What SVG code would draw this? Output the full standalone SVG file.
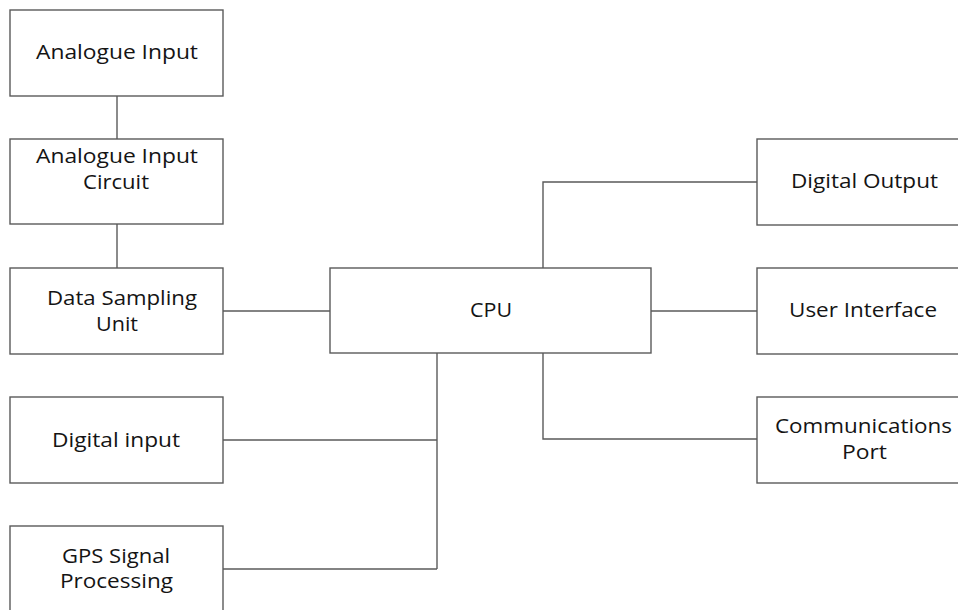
<svg xmlns="http://www.w3.org/2000/svg" width="958" height="610" viewBox="0 0 958 610">
<style>
.box{fill:#fff;stroke:#5a5a5a;stroke-width:1.4}
.ln{fill:none;stroke:#5a5a5a;stroke-width:1.4}
text{font-family:"Open Sans","Liberation Sans",sans-serif;font-size:20px;fill:#141414;text-anchor:middle}
</style>
<rect width="958" height="610" fill="#fff"/>
<g id="connectors">
<line class="ln" x1="117" y1="96" x2="117" y2="139"/>
<line class="ln" x1="117" y1="224" x2="117" y2="268"/>
<line class="ln" x1="223" y1="311" x2="330" y2="311"/>
<line class="ln" x1="651" y1="311" x2="757" y2="311"/>
<polyline class="ln" points="543,268 543,182 757,182"/>
<polyline class="ln" points="543,353 543,439 757,439"/>
<line class="ln" x1="437" y1="353" x2="437" y2="569"/>
<line class="ln" x1="223" y1="440" x2="437" y2="440"/>
<line class="ln" x1="223" y1="569" x2="437" y2="569"/>
</g>
<g id="analogue-input"><rect class="box" x="10" y="10" width="213" height="86"/><text x="117" y="59" textLength="162" lengthAdjust="spacingAndGlyphs">Analogue Input</text></g>
<g id="analogue-input-circuit"><rect class="box" x="10" y="139" width="213" height="85"/><text x="117" y="163" textLength="162" lengthAdjust="spacingAndGlyphs">Analogue Input</text><text x="116" y="189" textLength="66" lengthAdjust="spacingAndGlyphs">Circuit</text></g>
<g id="data-sampling-unit"><rect class="box" x="10" y="268" width="213" height="86"/><text x="122" y="305" textLength="150" lengthAdjust="spacingAndGlyphs">Data Sampling</text><text x="117" y="331" textLength="42" lengthAdjust="spacingAndGlyphs">Unit</text></g>
<g id="digital-input"><rect class="box" x="10" y="397" width="213" height="86"/><text x="116" y="447" textLength="128" lengthAdjust="spacingAndGlyphs">Digital input</text></g>
<g id="gps-signal-processing"><rect class="box" x="10" y="526" width="213" height="90"/><text x="116" y="563" textLength="108" lengthAdjust="spacingAndGlyphs">GPS Signal</text><text x="116.5" y="588" textLength="113" lengthAdjust="spacingAndGlyphs">Processing</text></g>
<g id="cpu"><rect class="box" x="330" y="268" width="321" height="85"/><text x="491" y="317" textLength="42" lengthAdjust="spacingAndGlyphs">CPU</text></g>
<g id="digital-output"><rect class="box" x="757" y="139" width="215" height="86"/><text x="864.5" y="188" textLength="147" lengthAdjust="spacingAndGlyphs">Digital Output</text></g>
<g id="user-interface"><rect class="box" x="757" y="268" width="215" height="86"/><text x="863" y="317" textLength="148" lengthAdjust="spacingAndGlyphs">User Interface</text></g>
<g id="communications-port"><rect class="box" x="757" y="397" width="215" height="86"/><text x="863.5" y="433" textLength="177" lengthAdjust="spacingAndGlyphs">Communications</text><text x="864.5" y="459" textLength="45" lengthAdjust="spacingAndGlyphs">Port</text></g>
</svg>
